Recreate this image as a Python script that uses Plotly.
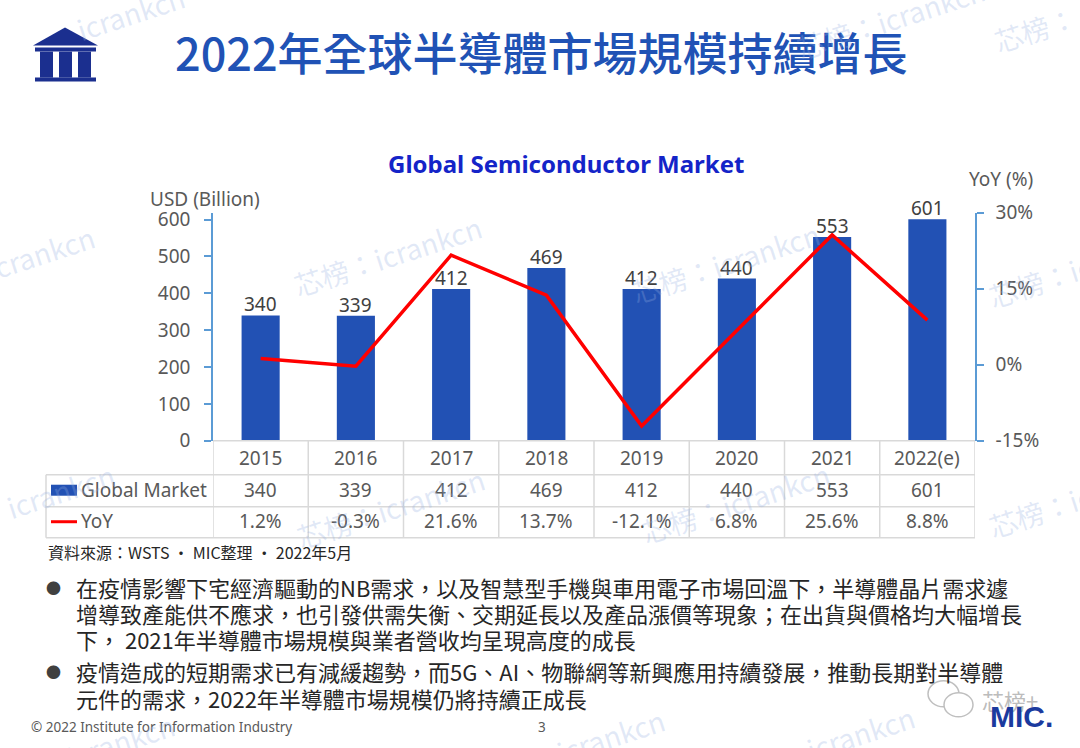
import plotly.graph_objects as go

# ---------------- data ----------------
years = ["2015", "2016", "2017", "2018", "2019", "2020", "2021", "2022(e)"]
market = [340, 339, 412, 469, 412, 440, 553, 601]
yoy = [1.2, -0.3, 21.6, 13.7, -12.1, 6.8, 25.6, 8.8]
left_ticks = [0, 100, 200, 300, 400, 500, 600]
right_ticks = [-15, 0, 15, 30]
right_tick_text = ["-15%", "0%", "15%", "30%"]

page_title = "2022年全球半導體市場規模持續增長"
chart_title = "Global Semiconductor Market"
left_axis_title = "USD (Billion)"
right_axis_title = "YoY (%)"
series_names = ["Global Market", "YoY"]
source_note = "資料來源：WSTS · MIC整理 · 2022年5月"
bullet_lines = [
    ["在疫情影響下宅經濟驅動的NB需求，以及智慧型手機與車用電子市場回溫下，半導體晶片需求遽",
     "增導致產能供不應求，也引發供需失衡、交期延長以及產品漲價等現象；在出貨與價格均大幅增長",
     "下， 2021年半導體市場規模與業者營收均呈現高度的成長"],
    ["疫情造成的短期需求已有減緩趨勢，而5G、AI、物聯網等新興應用持續發展，推動長期對半導體",
     "元件的需求，2022年半導體市場規模仍將持續正成長"],
]
footer_text = "© 2022 Institute for Information Industry"
page_number = "3"

# ---------------- style / layout helpers ----------------
W, H = 1080, 748
SY_A, SY_B = 0.965, 12.4   # empirical vertical calibration of the photo


def fx(x):
    return x / W


def fy(y):
    return 1 - ((y - SY_B) / SY_A) / H


BAR = "#2251B4"
RED = "#FF0000"
AX = "#5B9BD5"
GRID = "#D9D9D9"
TXT = "#595959"
FONT = "Noto Sans, Noto Sans CJK TC, sans-serif"
CJK = "Noto Sans CJK TC, sans-serif"

X0, X1, Y0, Y1 = 213, 975, 212, 440

fig = go.Figure()
fig.add_bar(
    x=years, y=market, width=0.4, name=series_names[0],
    marker=dict(color=BAR, line=dict(width=0)),
)
fig.add_scatter(
    x=years, y=yoy, yaxis="y2", mode="lines", name=series_names[1],
    line=dict(color=RED, width=3.5),
)

shapes = []
ann = []


def note(x, y, text, size, color=TXT, family=FONT, xanchor="center",
         yanchor="middle", xref="paper", angle=0, weight=None):
    f = dict(size=size, color=color, family=family)
    if weight is not None:
        f["weight"] = weight
    ann.append(dict(x=x if xref != "paper" else fx(x), y=fy(y), xref=xref,
                    yref="paper", text=text, showarrow=False, xanchor=xanchor,
                    yanchor=yanchor, textangle=angle, font=f))


# bar value labels (placed on the data scale, just above each bar)
for i, v in enumerate(market):
    ann.append(dict(x=i, y=v, xref="x", yref="y", text=str(v), showarrow=False,
                    xanchor="center", yanchor="middle", yshift=11,
                    font=dict(size=19, color="#404040", family=FONT)))

# --- table grid ---
for yy in [474, 506, 537]:
    shapes.append(dict(type="line", xref="paper", yref="paper",
                       x0=fx(46), x1=fx(X1), y0=fy(yy), y1=fy(yy),
                       line=dict(color=GRID, width=1.5)))
shapes.append(dict(type="line", xref="paper", yref="paper",
                   x0=fx(X0), x1=fx(X1), y0=fy(440), y1=fy(440),
                   line=dict(color=GRID, width=1.5)))
shapes.append(dict(type="line", xref="paper", yref="paper",
                   x0=fx(46), x1=fx(46), y0=fy(474), y1=fy(537),
                   line=dict(color=GRID, width=1.5)))
for i in range(len(years) + 1):
    shapes.append(dict(type="line", xref="x", yref="paper",
                       x0=i - 0.5, x1=i - 0.5, y0=fy(440), y1=fy(537),
                       line=dict(color=GRID, width=1.5)))
# legend keys in table
shapes.append(dict(type="rect", xref="paper", yref="paper",
                   x0=fx(51), x1=fx(77), y0=fy(495), y1=fy(484),
                   fillcolor=BAR, line=dict(width=0)))
shapes.append(dict(type="line", xref="paper", yref="paper",
                   x0=fx(51), x1=fx(77), y0=fy(521), y1=fy(521),
                   line=dict(color=RED, width=3)))

# --- logo (building icon) ---
LOGO = "#1B2F8F"
shapes.append(dict(type="path", xref="paper", yref="paper",
                   path=f"M {fx(33)},{fy(45)} L {fx(65)},{fy(27)} L {fx(98)},{fy(45)} Z",
                   fillcolor=LOGO, line=dict(width=0)))
for (a, b, c, d) in [(35, 96, 47, 51), (35, 96, 77, 81),
                     (40, 53, 51, 77), (59, 72, 51, 77), (78, 91, 51, 77)]:
    shapes.append(dict(type="rect", xref="paper", yref="paper",
                       x0=fx(a), x1=fx(b), y0=fy(d), y1=fy(c),
                       fillcolor=LOGO, line=dict(width=0)))

# --- wechat-like bubbles (bottom right) ---
for (a, b, c, d) in [(928, 959, 680, 706), (944, 973, 692, 716)]:
    shapes.append(dict(type="circle", xref="paper", yref="paper",
                       x0=fx(a), x1=fx(b), y0=fy(d), y1=fy(c),
                       fillcolor="white", line=dict(color="#BFBFBF", width=1.5)))

# table texts (x as category index)
for i, yr in enumerate(years):
    note(i, 457, yr, 19, xref="x")
    note(i, 489, str(market[i]), 19, xref="x")
    note(i, 520, f"{yoy[i]:.1f}%", 19, xref="x")
note(79, 489, series_names[0], 19, xanchor="left")
note(79, 520, series_names[1], 19, xanchor="left")

# titles
note(541, 51, page_title, 45, color="#2052B5", family=CJK, weight=500)
note(566, 163, f"<b>{chart_title}</b>", 24, color="#1424C8")
note(205, 198, left_axis_title, 19)
note(1001, 178, right_axis_title, 19)

# source
note(46, 551, source_note, 16, color="#262626", family=CJK, xanchor="left")

# bullets
line_y = [[586, 612, 638], [670, 697]]
for blines, ys in zip(bullet_lines, line_y):
    note(53, ys[0] + 1, "●", 15, color="#404040")
    for t, yy in zip(blines, ys):
        note(74, yy, t, 22, color="#262626", family=CJK, xanchor="left")

# footer
note(29, 726, footer_text, 13.5, xanchor="left")
note(542, 726, page_number, 13.5)
note(1010, 699, "芯榜+", 22, color="rgba(170,170,170,0.8)", family=CJK)
note(1021, 716, "<b>MIC.</b>", 30, color="#1B3A9E", family="Liberation Sans")

# watermarks
WM = "rgba(150,175,225,0.28)"
for (x, y, t) in [(387, 255, "芯榜：icrankcn"), (725, 262, "芯榜：icrankcn"),
                  (390, 507, "芯榜：icrankcn"), (735, 502, "芯榜：icrankcn"),
                  (890, 18, "芯榜：icrankcn"), (1035, 28, "芯榜："),
                  (130, 12, "icrankcn"), (40, 252, "icrankcn"),
                  (1040, 280, "芯榜：ic"), (1040, 510, "芯榜：ic"),
                  (60, 490, "icrankcn"), (610, 735, "icrankcn"),
                  (860, 732, "icrankcn"), (120, 740, "icrankcn")]:
    note(x, y, t, 28, color=WM, family=CJK, angle=-18)

fig.update_layout(
    width=W, height=H, margin=dict(l=0, r=0, t=0, b=0),
    paper_bgcolor="white", plot_bgcolor="white",
    font=dict(family=FONT, color=TXT),
    showlegend=False,
    xaxis=dict(domain=[fx(X0), fx(X1)], range=[-0.5, 7.5], showticklabels=False,
               showline=False, ticks="", showgrid=False, zeroline=False,
               type="category", fixedrange=True),
    yaxis=dict(domain=[fy(Y1), fy(Y0)], range=[0, 619], tickvals=left_ticks,
               showline=True, linecolor=AX, linewidth=1.5, ticks="outside",
               ticklen=7, tickcolor=AX, tickwidth=1.5,
               tickfont=dict(size=19, color=TXT), showgrid=False, zeroline=False,
               ticklabelstandoff=10),
    yaxis2=dict(overlaying="y", side="right", anchor="x", range=[-15, 30],
                tickvals=right_ticks, ticktext=right_tick_text,
                showline=True, linecolor=AX, linewidth=1.5, ticks="outside",
                ticklen=7, tickcolor=AX, tickwidth=1.5,
                tickfont=dict(size=19, color=TXT), showgrid=False, zeroline=False,
                ticklabelstandoff=8),
    shapes=shapes, annotations=ann,
)

fig.write_html("out.html", config={"displayModeBar": False},
               post_script="document.body.style.margin='0';")
